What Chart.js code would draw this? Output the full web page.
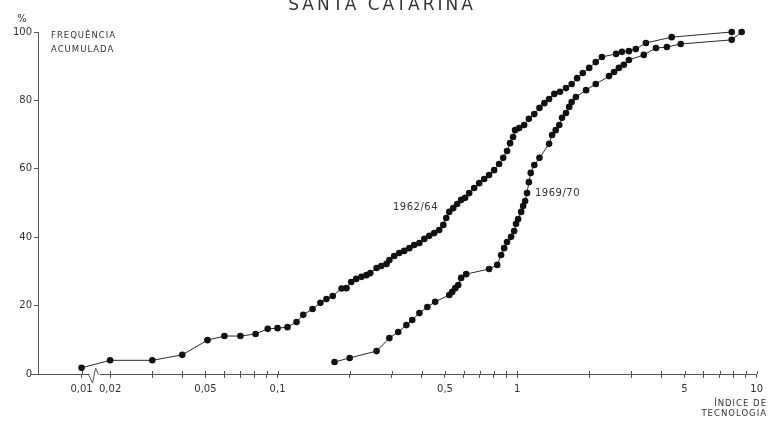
<!DOCTYPE html>
<html>
<head>
<meta charset="utf-8">
<script src="https://cdn.jsdelivr.net/npm/chart.js@4/dist/chart.umd.min.js"></script>
<style>
  html, body { margin: 0; padding: 0; background: #fff; }
  #wrap { width: 768px; height: 422px; }
</style>
</head>
<body>
<div id="wrap"><canvas id="c" width="768" height="422"></canvas></div>
<script>
// 1962/64 — índice de tecnologia x frequência acumulada (%)
const X_6264 = [0.01, 0.02, 0.03, 0.04, 0.051, 0.06, 0.07, 0.081, 0.091, 0.1, 0.11, 0.12, 0.128, 0.14,
  0.151, 0.16, 0.17, 0.185, 0.194, 0.203, 0.213, 0.224, 0.235, 0.244, 0.259, 0.271, 0.285, 0.293,
  0.307, 0.322, 0.338, 0.355, 0.372, 0.391, 0.41, 0.43, 0.451, 0.473, 0.492, 0.506, 0.521, 0.541,
  0.562, 0.584, 0.607, 0.631, 0.662, 0.695, 0.729, 0.764, 0.802, 0.841, 0.875, 0.908, 0.935, 0.962,
  0.981, 1.02, 1.07, 1.12, 1.18, 1.24, 1.30, 1.36, 1.43, 1.51, 1.60, 1.69, 1.78, 1.88, 2.0, 2.13,
  2.26, 2.59, 2.74, 2.93, 3.13, 3.45, 4.42, 7.87];
const Y_6264 = [1.8, 4.0, 4.0, 5.6, 9.9, 11.1, 11.1, 11.7, 13.2, 13.4, 13.7, 15.2, 17.3, 19.0,
  20.8, 21.9, 22.8, 25.0, 25.1, 26.9, 27.8, 28.4, 28.9, 29.5, 31.0, 31.6, 32.2, 33.3,
  34.5, 35.4, 36.0, 36.8, 37.7, 38.3, 39.5, 40.4, 41.2, 42.1, 43.6, 45.6, 47.4, 48.5,
  49.7, 50.9, 51.5, 52.9, 54.4, 55.8, 57.0, 58.2, 59.6, 61.4, 63.2, 65.2, 67.5, 69.3,
  71.3, 71.9, 72.8, 74.6, 76.0, 77.8, 79.2, 80.4, 81.9, 82.5, 83.6, 84.8, 86.5, 88.0, 89.5, 91.2,
  92.7, 93.6, 94.2, 94.4, 95.0, 96.8, 98.5, 100];

// 1969/70
const X_6970 = [0.173, 0.2, 0.259, 0.293, 0.319, 0.345, 0.365, 0.391, 0.422, 0.455, 0.521, 0.536,
  0.552, 0.568, 0.584, 0.613, 0.764, 0.826, 0.858, 0.883, 0.908, 0.944, 0.972, 0.99, 1.01, 1.04,
  1.06, 1.08, 1.10, 1.12, 1.14, 1.18, 1.24, 1.36, 1.40, 1.45, 1.50, 1.54, 1.60, 1.65, 1.69, 1.76,
  1.94, 2.13, 2.42, 2.54, 2.66, 2.79, 2.93, 3.38, 3.80, 4.22, 4.82, 7.87, 8.66];
const Y_6970 = [3.5, 4.7, 6.7, 10.5, 12.3, 14.3, 15.8, 17.8, 19.6, 21.1, 23.1, 24.0,
  25.1, 26.0, 28.1, 29.2, 30.7, 31.9, 34.8, 36.8, 38.6, 40.1, 41.8, 43.9, 45.3, 47.4,
  49.1, 50.6, 52.9, 56.1, 58.8, 61.1, 63.2, 67.3, 69.9, 71.3, 72.8, 74.9, 76.3, 78.1, 79.5, 81.0,
  83.0, 84.8, 87.1, 88.3, 89.5, 90.4, 91.8, 93.3, 95.3, 95.6, 96.5, 97.7, 100];

const X_TICKS = [0.01, 0.02, 0.03, 0.04, 0.05, 0.06, 0.07, 0.08, 0.09, 0.1, 0.2, 0.3, 0.4, 0.5,
  0.6, 0.7, 0.8, 0.9, 1, 2, 3, 4, 5, 6, 7, 8, 9, 10];
const X_LABELS = { 0.01: '0,01', 0.02: '0,02', 0.05: '0,05', 0.1: '0,1', 0.5: '0,5', 1: '1', 5: '5', 10: '10' };

// o eixo está interrompido: o valor 0,01 aparece deslocado, logo após a quebra
const X_MIN = 0.01;
const X_BREAK = 0.0152;
const shiftX = v => (v === 0.01 ? X_BREAK : v);

const INK = '#2a2a2a';
const AXIS = '#555';
const FONT = '"DejaVu Sans", sans-serif';

const toPoints = (xs, ys) => xs.map((x, i) => ({ x: shiftX(x), y: ys[i] }));

const serie = (label, xs, ys) => ({
  label,
  data: toPoints(xs, ys),
  showLine: true,
  borderColor: INK,
  borderWidth: 1,
  pointRadius: 3.3,
  pointBackgroundColor: '#111',
  pointBorderColor: '#111',
  pointBorderWidth: 0,
  clip: false
});

// textos e detalhes do desenho original
const extras = {
  id: 'extras',
  afterDraw(chart) {
    const { ctx, chartArea: a, scales } = chart;
    const xs = scales.x, ys = scales.y;
    ctx.save();

    // marcas para cima no eixo x
    ctx.strokeStyle = AXIS;
    ctx.lineWidth = 1;
    ctx.beginPath();
    X_TICKS.forEach(v => {
      const px = Math.round(xs.getPixelForValue(shiftX(v))) + 0.5;
      ctx.moveTo(px, a.bottom);
      ctx.lineTo(px, a.bottom - 3);
    });
    // eixo x continua um pouco à esquerda
    ctx.moveTo(a.left - 8, a.bottom + 0.5);
    ctx.lineTo(a.left, a.bottom + 0.5);
    ctx.stroke();

    // símbolo de quebra
    const bx = xs.getPixelForValue(X_BREAK) + 10;
    ctx.fillStyle = '#fff';
    ctx.fillRect(bx - 2, a.bottom - 1, 10, 3);
    ctx.beginPath();
    ctx.moveTo(bx - 3, a.bottom + 0.5);
    ctx.lineTo(bx + 1, a.bottom + 9);
    ctx.lineTo(bx + 4, a.bottom - 6);
    ctx.lineTo(bx + 7, a.bottom + 0.5);
    ctx.stroke();

    ctx.fillStyle = INK;
    ctx.textBaseline = 'middle';

    // título
    ctx.font = '17px ' + FONT;
    ctx.fillStyle = '#333';
    ctx.textAlign = 'center';
    ctx.letterSpacing = '3px';
    ctx.fillText('SANTA CATARINA', 382, 6);

    ctx.letterSpacing = '1px';
    ctx.font = '8.5px ' + FONT;
    ctx.textAlign = 'left';
    ctx.fillStyle = '#333';
    ctx.fillText('FREQUÊNCIA', 51, 36);
    ctx.fillText('ACUMULADA', 51, 50);

    ctx.letterSpacing = '0px';
    ctx.font = '10px ' + FONT;
    ctx.textAlign = 'center';
    ctx.fillText('%', 22, 19);

    ctx.letterSpacing = '1px';
    ctx.font = '8.5px ' + FONT;
    ctx.textAlign = 'right';
    ctx.fillText('ÍNDICE DE', 767, 404);
    ctx.fillText('TECNOLOGIA', 767, 414);

    ctx.letterSpacing = '0.5px';
    ctx.font = '10px ' + FONT;
    ctx.textAlign = 'left';
    ctx.fillText('1962/64', 393, ys.getPixelForValue(48.7));
    ctx.fillText('1969/70', 535, ys.getPixelForValue(52.9));

    ctx.restore();
  }
};

new Chart(document.getElementById('c'), {
  type: 'scatter',
  data: {
    datasets: [
      serie('1962/64', X_6264, Y_6264),
      serie('1969/70', X_6970, Y_6970)
    ]
  },
  options: {
    responsive: false,
    animation: false,
    devicePixelRatio: 1,
    layout: { padding: { top: 32, right: 10, left: 0, bottom: 0 } },
    plugins: { legend: { display: false }, tooltip: { enabled: false } },
    scales: {
      x: {
        type: 'logarithmic',
        min: X_MIN,
        max: 10,
        afterBuildTicks: s => { s.ticks = X_TICKS.map(v => ({ value: shiftX(v) })); },
        afterFit: s => { s.height = 48; },
        border: { display: true, color: AXIS, width: 1 },
        grid: { display: true, drawOnChartArea: false, tickLength: 4, color: AXIS },
        ticks: {
          autoSkip: false,
          maxRotation: 0,
          padding: 5,
          color: '#333',
          font: { family: FONT, size: 10 },
          callback: (v, i) => X_LABELS[X_TICKS[i]] || ''
        }
      },
      y: {
        min: 0,
        max: 100,
        afterFit: s => { s.width = 38; },
        border: { display: true, color: AXIS, width: 1 },
        grid: { display: true, drawOnChartArea: false, tickLength: 4, color: AXIS },
        ticks: {
          stepSize: 20,
          padding: 2,
          color: '#333',
          font: { family: FONT, size: 10 }
        }
      }
    }
  },
  plugins: [extras]
});
</script>
</body>
</html>
